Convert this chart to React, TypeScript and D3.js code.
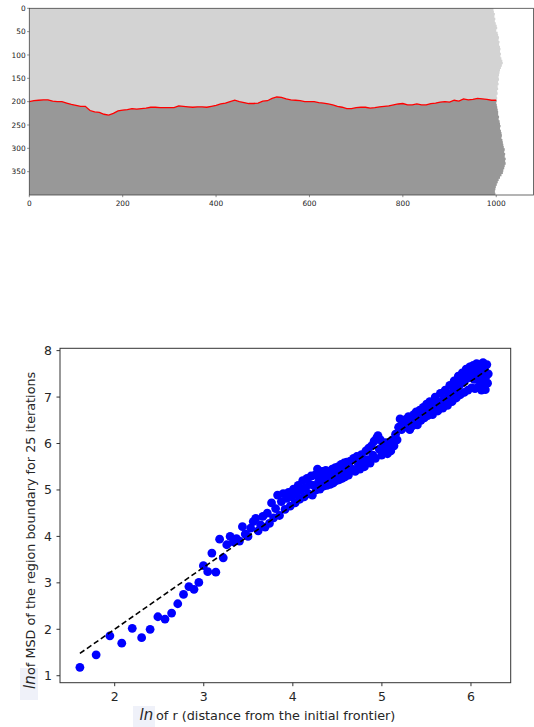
import * as d3 from "d3";
import React from "react";

// ---- top panel: region boundary (image coordinates) ----
const boundaryX = d3.range(0, 1001, 10);
const boundaryY = [
  200, 198, 197, 196, 196, 199, 200, 200, 203, 206,
  208, 210, 210, 219, 222, 223, 227, 229, 225, 220,
  218, 217, 215, 216, 215, 214, 212, 212, 213, 213,
  213, 213, 209, 210, 211, 212, 211, 211, 212, 210,
  208, 205, 203, 200, 197, 200, 202, 204, 204, 203,
  199, 198, 193, 190, 191, 194, 196, 197, 198, 200,
  200, 200, 202, 203, 205, 207, 210, 212, 215, 215,
  213, 212, 212, 214, 213, 211, 210, 209, 207, 205,
  204, 207, 207, 205, 207, 207, 204, 203, 201, 200,
  201, 197, 199, 194, 196, 195, 193, 194, 195, 197,
  197,
];
// right edge of the simulated region, per image row
const edgeRows = d3.range(0, 401, 5);
const edgeX = [
  994, 995, 997, 996, 998, 997, 999, 1001, 1002, 1000,
  1003, 1004, 1006, 1005, 1007, 1006, 1008, 1009, 1008, 1010,
  1009, 1011, 1013, 1014, 1012, 1010, 1008, 1007, 1006, 1005,
  1006, 1004, 1005, 1003, 1004, 1002, 1003, 1001, 1002, 1001,
  1000, 1001, 1002, 1003, 1004, 1004, 1006, 1005, 1007, 1008,
  1009, 1008, 1010, 1011, 1012, 1011, 1013, 1014, 1015, 1016,
  1018, 1017, 1019, 1018, 1020, 1019, 1020, 1018, 1017, 1015,
  1014, 1011, 1008, 1005, 1003, 1001, 999, 998, 997, 998,
  997,
];
const topXTicks = [0, 200, 400, 600, 800, 1000];
const topYTicks = [0, 50, 100, 150, 200, 250, 300, 350];

// ---- bottom panel: ln(MSD) vs ln(r) ----
const rValues = [
  5, 6, 7, 8, 9, 10, 11, 12, 13, 14, 15, 16, 17, 18, 19, 20, 21, 22, 23, 24, 25,
  26, 27, 28, 29, 30, 31, 32, 33, 34, 35, 36, 37, 38, 39, 40,
  41, 42, 43, 44, 45, 46, 47, 48, 49, 50, 51, 52, 53, 54, 55, 56, 57, 58, 59, 60,
  61, 62, 63, 64, 65, 66, 67, 68, 69, 70, 71, 72, 73, 74, 75, 76, 77, 78, 79, 80,
  81, 82, 83, 84, 85, 86, 87, 88, 89, 90, 91, 92, 93, 94, 95, 96, 97, 98, 99, 100,
  102, 104, 106, 108, 110, 112, 114, 116, 118, 120, 122, 124, 126, 128, 130,
  132, 134, 136, 138, 140, 142, 144, 146, 148, 150,
  152, 155, 158, 161, 164, 167, 170, 173, 176, 179, 182, 185, 188, 191, 194,
  197, 200, 203, 206, 209, 212, 215, 218, 221, 224, 227, 230, 233, 236, 239,
  242, 245, 248, 251,
  254, 258, 262, 266, 270, 274, 278, 282, 286, 290, 294, 298, 302, 306, 310,
  314, 318, 322, 326, 330, 334, 338, 342, 346, 350, 354, 358, 362, 366, 370,
  374, 378, 382, 386, 390, 394, 398, 402, 406, 410, 414, 418, 422, 426, 430,
  434, 438, 442, 446, 450, 454, 458, 462, 466, 470, 474, 478, 482, 486, 490,
];
const lnMsd = [
  1.18, 1.45, 1.86, 1.70, 2.02, 1.82, 2.00, 2.27, 2.22, 2.35, 2.55, 2.75, 2.92, 2.86, 3.01, 3.37, 3.24, 3.64, 3.23, 3.94, 3.54,
  3.82, 4.00, 3.88, 3.95, 3.90, 4.21, 4.05, 4.00, 4.18, 4.32, 4.39, 4.12, 4.25, 4.43, 4.20,
  4.50, 4.28, 4.72, 4.40, 4.60, 4.89, 4.45, 4.75, 4.92, 4.58, 4.82, 4.95, 4.65, 4.85, 5.02, 4.72, 4.92, 5.10, 4.80, 5.00,
  5.20, 4.85, 5.05, 5.25, 4.92, 5.12, 5.30, 4.89, 5.10, 5.32, 5.00, 5.45, 5.18, 5.02, 5.30, 5.40, 5.08, 5.25, 5.42, 5.10,
  5.28, 5.40, 5.12, 5.30, 5.45, 5.15, 5.32, 5.48, 5.20, 5.35, 5.50, 5.22, 5.40, 5.55, 5.25, 5.42, 5.58, 5.28, 5.45, 5.60,
  5.32, 5.62, 5.45, 5.68, 5.40, 5.72, 5.55, 5.45, 5.76, 5.60, 5.50, 5.84, 5.65, 5.90, 5.58,
  5.95, 5.75, 6.05, 5.68, 6.12, 6.17, 5.88, 6.08, 5.75, 6.00,
  5.85, 6.02, 5.78, 5.95, 5.84, 6.08, 5.95, 6.20, 6.08, 6.35, 6.53, 6.30, 6.48, 6.35, 6.52,
  6.40, 6.58, 6.30, 6.48, 6.38, 6.62, 6.45, 6.68, 6.40, 6.55, 6.72, 6.50, 6.62, 6.78, 6.55,
  6.70, 6.85, 6.60, 6.75,
  6.90, 6.72, 6.62, 6.80, 7.00, 6.85, 6.70, 6.88, 7.08, 6.90, 6.76, 6.95, 7.15, 6.98, 6.82,
  7.02, 7.25, 7.05, 6.90, 7.12, 7.35, 7.15, 6.98, 7.20, 7.45, 7.25, 7.05, 7.30, 7.52, 7.32,
  7.10, 7.38, 7.60, 7.40, 7.15, 7.45, 7.65, 7.42, 7.20, 7.50, 7.68, 7.38, 7.18, 7.55, 7.72,
  7.45, 7.22, 7.58, 7.70, 7.35, 7.15, 7.50, 7.74, 7.28, 7.60, 7.16, 7.45, 7.70, 7.30, 7.50,
];
const fitSlope = 1.335;
const fitIntercept = -0.668;
const botXTicks = [2, 3, 4, 5, 6];
const botYTicks = [1, 2, 3, 4, 5, 6, 7, 8];

const FONT = "DejaVu Sans, sans-serif";

function TopPanel() {
  const x = d3.scaleLinear().domain([0, 1080]).range([29.3, 533.6]);
  const y = d3.scaleLinear().domain([0, 400]).range([8.3, 195]);

  const edgePts: [number, number][] = edgeRows.map((r, i) => [edgeX[i], r]);
  const region =
    d3
      .line<[number, number]>()
      .x((d) => x(d[0]))
      .y((d) => y(d[1]))
      .curve(d3.curveStepBefore)(
        [[0, 0] as [number, number], ...edgePts, [0, 400] as [number, number]]
      ) + "Z";

  const bPts: [number, number][] = boundaryX.map((bx, i) => [bx, boundaryY[i]]);
  const lower = d3
    .area<[number, number]>()
    .x((d) => x(d[0]))
    .y0(y(400))
    .y1((d) => y(d[1]))([...bPts, [1080, boundaryY[boundaryY.length - 1]]]);
  const redLine = d3
    .line<[number, number]>()
    .x((d) => x(d[0]))
    .y((d) => y(d[1]))(bPts);

  return (
    <g>
      <defs>
        <clipPath id="regionClip">
          <path d={region} />
        </clipPath>
      </defs>
      <path d={region} fill="#d3d3d3" />
      <path d={lower ?? ""} fill="#989898" clipPath="url(#regionClip)" />
      <path d={redLine ?? ""} fill="none" stroke="#ff0000" strokeWidth={1.3} />
      <rect x={x(0)} y={y(0)} width={x(1080) - x(0)} height={y(400) - y(0)} fill="none" stroke="#444" strokeWidth={0.8} />
      {topXTicks.map((t) => (
        <g key={"tx" + t}>
          <line x1={x(t)} x2={x(t)} y1={y(400)} y2={y(400) + 2.2} stroke="#444" strokeWidth={0.6} />
          <text x={x(t)} y={y(400) + 10.5} textAnchor="middle" fontSize={7.4} fontFamily={FONT} fill="#222">
            {t}
          </text>
        </g>
      ))}
      {topYTicks.map((t) => (
        <g key={"ty" + t}>
          <line x1={x(0) - 2.2} x2={x(0)} y1={y(t)} y2={y(t)} stroke="#444" strokeWidth={0.6} />
          <text x={x(0) - 3.6} y={y(t) + 2.7} textAnchor="end" fontSize={7.4} fontFamily={FONT} fill="#222">
            {t}
          </text>
        </g>
      ))}
    </g>
  );
}

function BottomPanel() {
  const x = d3.scaleLinear().domain([1.386, 6.446]).range([60, 510.7]);
  const y = d3.scaleLinear().domain([0.85, 8.05]).range([682.7, 348.3]);
  const pts = rValues.map((r, i) => ({ lx: Math.log(r), ly: lnMsd[i] }));
  const x0 = Math.log(rValues[0]);
  const x1 = Math.log(rValues[rValues.length - 1]);
  const fit = d3.line<number>()
    .x((d) => x(d))
    .y((d) => y(fitIntercept + fitSlope * d))([x0, x1]);

  return (
    <g>
      {pts.map((p, i) => (
        <circle key={i} cx={x(p.lx)} cy={y(p.ly)} r={4.4} fill="#0000ff" />
      ))}
      <path d={fit ?? ""} fill="none" stroke="#000" strokeWidth={1.6} strokeDasharray="5.5,3" />
      <rect x={x.range()[0]} y={y.range()[1]} width={x.range()[1] - x.range()[0]} height={y.range()[0] - y.range()[1]} fill="none" stroke="#333" strokeWidth={1} />
      {botXTicks.map((t) => (
        <g key={"bx" + t}>
          <line x1={x(t)} x2={x(t)} y1={682.7} y2={686.2} stroke="#333" />
          <text x={x(t)} y={700.5} textAnchor="middle" fontSize={12.5} fontFamily={FONT} fill="#262626">
            {t}
          </text>
        </g>
      ))}
      {botYTicks.map((t) => (
        <g key={"by" + t}>
          <line x1={56.5} x2={60} y1={y(t)} y2={y(t)} stroke="#333" />
          <text x={52} y={y(t) + 4.5} textAnchor="end" fontSize={12.5} fontFamily={FONT} fill="#262626">
            {t}
          </text>
        </g>
      ))}
      {/* y label */}
      <rect x={20} y={668} width={18} height={32} fill="#eff1f9" />
      <g transform="translate(35,689) rotate(-90)">
        <text x={0} y={0} fontSize={15} fontStyle="italic" fontFamily={FONT} fill="#262626">
          ln
        </text>
        <text x={14} y={0} fontSize={12.8} fontFamily={FONT} fill="#262626">
          of MSD of the region boundary for 25 iterations
        </text>
      </g>
      {/* x label */}
      <rect x={133} y={706} width={22} height={21} fill="#eff1f9" />
      <text x={139.5} y={720} fontSize={15} fontStyle="italic" fontFamily={FONT} fill="#262626">
        ln
      </text>
      <text x={156} y={720} fontSize={12.8} fontFamily={FONT} fill="#262626">
        of r (distance from the initial frontier)
      </text>
    </g>
  );
}

export default function App() {
  return (
    <svg width={534} height={727} style={{ position: "absolute", left: 0, top: 0, background: "#fff" }}>
      <TopPanel />
      <BottomPanel />
    </svg>
  );
}
